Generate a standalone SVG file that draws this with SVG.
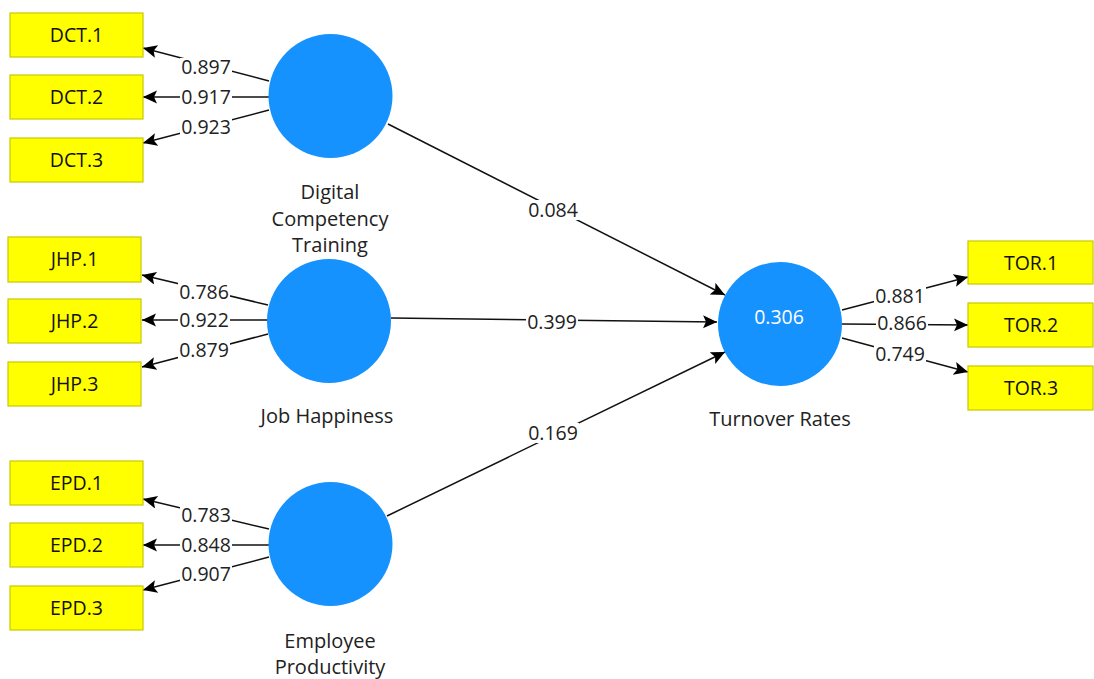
<svg xmlns="http://www.w3.org/2000/svg" width="1094" height="679" viewBox="0 0 1094 679">
<defs>
<marker id="ah" markerUnits="userSpaceOnUse" markerWidth="18" markerHeight="16" refX="14" refY="6.5" orient="auto">
<path d="M0,0 L14,6.5 L0,13 L3,6.5 z" fill="#000"/>
</marker>
<style>
.box{fill:#ffff00;stroke:#c8c800;stroke-width:1.2}
.bt{font-family:"Open Sans","Noto Sans",sans-serif;font-size:19.5px;fill:#111;text-anchor:middle}
.lv{fill:#1592fd}
.lt{font-family:"Open Sans","Noto Sans",sans-serif;font-size:20px;fill:#222;text-anchor:middle}
.r2{font-family:"Open Sans","Noto Sans",sans-serif;font-size:19.5px;fill:#fff;text-anchor:middle}
.ln{stroke:#111;stroke-width:1.5;fill:none;marker-end:url(#ah)}
.bg{fill:#fff}
.num{font-family:"Open Sans","Noto Sans",sans-serif;font-size:19.5px;fill:#222;text-anchor:middle}
</style>
</defs>
<rect width="1094" height="679" fill="#fff"/>
<g id="connectors">
<line class="ln" x1="269" y1="81" x2="143" y2="48"/>
<line class="ln" x1="269" y1="97" x2="143" y2="97"/>
<line class="ln" x1="269" y1="110" x2="143" y2="143"/>
<line class="ln" x1="268" y1="305" x2="142" y2="275"/>
<line class="ln" x1="268" y1="320" x2="142" y2="320"/>
<line class="ln" x1="268" y1="334" x2="142" y2="367"/>
<line class="ln" x1="269" y1="529" x2="143" y2="499"/>
<line class="ln" x1="269" y1="545" x2="143" y2="545"/>
<line class="ln" x1="269" y1="557" x2="143" y2="590"/>
<line class="ln" x1="842" y1="310" x2="968" y2="277"/>
<line class="ln" x1="842" y1="324" x2="968" y2="325"/>
<line class="ln" x1="842" y1="338" x2="968" y2="372"/>
<line class="ln" x1="388" y1="124" x2="725" y2="295"/>
<line class="ln" x1="391" y1="318" x2="717" y2="322"/>
<line class="ln" x1="387" y1="516" x2="725" y2="352"/>
<g class="bg">
<rect x="180" y="58" width="52" height="20"/>
<rect x="180" y="87" width="52" height="20"/>
<rect x="180" y="117" width="52" height="20"/>
<rect x="178" y="282" width="52" height="20"/>
<rect x="178" y="310" width="52" height="20"/>
<rect x="178" y="340" width="52" height="20"/>
<rect x="180" y="505" width="52" height="20"/>
<rect x="180" y="535" width="52" height="20"/>
<rect x="180" y="564" width="52" height="20"/>
<rect x="874" y="286" width="52" height="20"/>
<rect x="876" y="313" width="52" height="20"/>
<rect x="874" y="344" width="52" height="20"/>
<rect x="527" y="200" width="52" height="20"/>
<rect x="526" y="312" width="52" height="20"/>
<rect x="527" y="423" width="52" height="20"/>
</g>
<text class="num" x="206" y="74">0.897</text>
<text class="num" x="206" y="104">0.917</text>
<text class="num" x="206" y="134">0.923</text>
<text class="num" x="204" y="299">0.786</text>
<text class="num" x="204" y="327">0.922</text>
<text class="num" x="204" y="357">0.879</text>
<text class="num" x="206" y="522">0.783</text>
<text class="num" x="206" y="552">0.848</text>
<text class="num" x="206" y="581">0.907</text>
<text class="num" x="900" y="303">0.881</text>
<text class="num" x="902" y="330">0.866</text>
<text class="num" x="900" y="361">0.749</text>
<text class="num" x="553" y="217">0.084</text>
<text class="num" x="552" y="329">0.399</text>
<text class="num" x="553" y="440">0.169</text>
</g>
<g id="DCT.1"><rect class="box" x="10" y="13" width="133" height="44"/><text class="bt" x="76.5" y="42">DCT.1</text></g>
<g id="DCT.2"><rect class="box" x="10" y="75" width="133" height="44"/><text class="bt" x="76.5" y="104">DCT.2</text></g>
<g id="DCT.3"><rect class="box" x="10" y="138" width="133" height="44"/><text class="bt" x="76.5" y="167">DCT.3</text></g>
<g id="JHP.1"><rect class="box" x="8" y="237" width="133" height="45"/><text class="bt" x="74.5" y="266">JHP.1</text></g>
<g id="JHP.2"><rect class="box" x="8" y="299" width="133" height="44"/><text class="bt" x="74.5" y="328">JHP.2</text></g>
<g id="JHP.3"><rect class="box" x="8" y="362" width="133" height="44"/><text class="bt" x="74.5" y="391">JHP.3</text></g>
<g id="EPD.1"><rect class="box" x="10" y="461" width="133" height="44"/><text class="bt" x="76.5" y="490">EPD.1</text></g>
<g id="EPD.2"><rect class="box" x="10" y="523" width="133" height="44"/><text class="bt" x="76.5" y="552">EPD.2</text></g>
<g id="EPD.3"><rect class="box" x="10" y="586" width="133" height="44"/><text class="bt" x="76.5" y="615">EPD.3</text></g>
<g id="TOR.1"><rect class="box" x="968" y="241" width="125" height="43"/><text class="bt" x="1031" y="270">TOR.1</text></g>
<g id="TOR.2"><rect class="box" x="968" y="303" width="125" height="44"/><text class="bt" x="1031" y="332">TOR.2</text></g>
<g id="TOR.3"><rect class="box" x="968" y="366" width="125" height="44"/><text class="bt" x="1031" y="395">TOR.3</text></g>
<g id="DigitalCompetencyTraining"><circle class="lv" cx="330.5" cy="96" r="62"/><text class="lt" x="330" y="199">Digital</text><text class="lt" x="330" y="225.5">Competency</text><text class="lt" x="330" y="252">Training</text></g>
<g id="JobHappiness"><circle class="lv" cx="329" cy="321" r="62"/><text class="lt" x="327" y="423">Job Happiness</text></g>
<g id="EmployeeProductivity"><circle class="lv" cx="330.5" cy="544" r="62"/><text class="lt" x="330" y="648">Employee</text><text class="lt" x="330" y="674">Productivity</text></g>
<g id="TurnoverRates"><circle class="lv" cx="780" cy="324" r="62"/><text class="r2" x="779" y="324">0.306</text><text class="lt" x="780" y="426">Turnover Rates</text></g>
</svg>
